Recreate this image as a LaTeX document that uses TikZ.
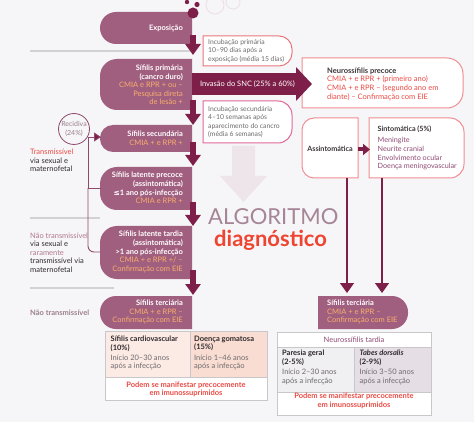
\documentclass[tikz,border=0pt]{standalone}
\usepackage{fontspec}
\setmainfont{Lato}
\newfontfamily\symf{DejaVu Sans}
\usetikzlibrary{arrows.meta}
\definecolor{bg}{HTML}{F6F5F7}
\definecolor{mauve}{HTML}{A15F80}
\definecolor{maroon}{HTML}{7D1F48}
\definecolor{conn}{HTML}{8E4A6D}
\definecolor{peach}{HTML}{F8AE6B}
\definecolor{redt}{HTML}{EA4A44}
\definecolor{diagred}{HTML}{EE4430}
\definecolor{pinkb}{HTML}{EE8E92}
\definecolor{redb}{HTML}{E8777C}
\definecolor{magb}{HTML}{E2689A}
\definecolor{greyt}{HTML}{6E6A6C}
\definecolor{darkt}{HTML}{3A3436}
\definecolor{violt}{HTML}{8F4A73}
\definecolor{mauvet}{HTML}{B0798F}
\definecolor{mauveg}{HTML}{9C7F8E}
\definecolor{lineg}{HTML}{D3D1D4}
\definecolor{fadearrow}{HTML}{EEE5EB}
\definecolor{faintc}{HTML}{EADFE5}
\definecolor{algc}{HTML}{A58596}
\definecolor{cellA}{HTML}{FCEAE5}
\definecolor{cellB}{HTML}{F9DDD3}
\definecolor{cellC}{HTML}{F0EFF2}
\definecolor{cellD}{HTML}{E6DEE5}
\definecolor{tblb}{HTML}{C9C7CA}
\definecolor{blackt}{HTML}{2E2A2C}
% box with left corners rounded: style, x1, y1, x2, y2, r
\newcommand{\myLbox}[6]{\path[#1] (#2,#3+#6) .. controls (#2,#3+0.45*#6) and (#2+0.45*#6,#3) .. (#2+#6,#3) -- (#4,#3) -- (#4,#5) -- (#2+#6,#5) .. controls (#2+0.45*#6,#5) and (#2,#5-0.45*#6) .. (#2,#5-#6) -- cycle;}
% box with right corners rounded
\newcommand{\myRbox}[6]{\path[#1] (#2,#3) -- (#4-#6,#3) .. controls (#4-0.45*#6,#3) and (#4,#3+0.45*#6) .. (#4,#3+#6) -- (#4,#5-#6) .. controls (#4,#5-0.45*#6) and (#4-0.45*#6,#5) .. (#4-#6,#5) -- (#2,#5) -- cycle;}
\begin{document}
\begin{tikzpicture}[x=1pt,y=-1pt,font=\fontsize{7.5}{8.6}\selectfont,
  rtxt/.style={inner sep=0pt,align=right,anchor=east,text=white},
  ltxt/.style={inner sep=0pt,align=left,anchor=west},
  ctxt/.style={inner sep=0pt,align=center},
  incub/.style={ltxt,text=greyt,font=\fontsize{6.8}{8.5}\selectfont},
  bigarr/.style={draw=maroon,line width=5.5pt,-{Triangle[width=15pt,length=11pt]}},
  vline/.style={draw=maroon,line width=1.3pt,-{Triangle[width=14pt,length=10pt]}},
  connl/.style={draw=conn,line width=0.9pt},
  sepl/.style={draw=lineg,line width=1.2pt},
  tbl/.style={draw=tblb,line width=0.8pt}]
\useasboundingbox (0,0) rectangle (474,422);
\fill[bg] (0,0) rectangle (474,422);

% faint background arrow
\fill[fadearrow] (232,146) -- (255,146) -- (255,176) -- (267,176) -- (243.5,202) -- (220,176) -- (232,176) -- cycle;

% decorative circles
\draw[faintc,line width=0.8pt] (215,5) circle[radius=9];
\draw[faintc,line width=0.8pt] (233,2) circle[radius=7];

% separator lines
\draw[sepl] (30,51) -- (190,51);
\draw[sepl] (30,218) -- (100,218);
\draw[sepl] (30,288) -- (114,288);

% left column boxes
\myLbox{fill=mauve}{100}{12}{192}{44}{16}
\myLbox{fill=mauve}{100}{59}{192}{110}{17}
\myLbox{fill=mauve}{100}{125}{192}{152}{13}
\myLbox{fill=mauve}{100}{167}{192}{210}{17}
\myLbox{fill=mauve}{100}{226}{192}{279}{17}
\myLbox{fill=mauve}{100}{296}{192}{329}{16}

\fill[maroon] (193,13) circle[radius=5.5];
\fill[maroon] (197,4.5) circle[radius=2.6];
\fill[maroon] (187,2) circle[radius=2.2];

\node[rtxt] (expo) at (183,28) {\textbf{Exposição}};
\node[rtxt] (prim) at (183,85) {\textbf{Sífilis primária}\\\textbf{(cancro duro)}\\\textcolor{peach}{CMIA e RPR + ou –}\\\textcolor{peach}{Pesquisa direta}\\\textcolor{peach}{de lesão +}};
\node[rtxt] (sec) at (183,138.5) {\textbf{Sífilis secundária}\\\textcolor{peach}{CMIA + e RPR +}};
\node[rtxt] (lpre) at (183,188) {\textbf{Sífilis latente precoce}\\\textbf{(assintomática)}\\\textbf{{\symf ≤}1 ano pós-infecção}\\\textcolor{peach}{CMIA e RPR +}};
\node[rtxt] (ltar) at (183,252) {\textbf{Sífilis latente tardia}\\\textbf{(assintomática)}\\\textbf{>1 ano pós-infecção}\\\textcolor{peach}{CMIA + e RPR +/ –}\\\textcolor{peach}{Confirmação com EIE}};
\node[rtxt] (terl) at (183,312) {\textbf{Sífilis terciária}\\\textcolor{peach}{CMIA + e RPR –}\\\textcolor{peach}{Confirmação com EIE}};

% incubation boxes
\myRbox{draw=redb,fill=white,line width=1pt}{203}{36}{292}{66}{13}
\node[incub] (incp) at (208,50.7) {Incubação primária\\10–90 dias após a\\exposição (média 15 dias)};
\myRbox{draw=magb,fill=white,line width=1pt}{203}{101}{292}{143}{14}
\node[incub] (incs) at (208,121.8) {Incubação secundária\\4–10 semanas após\\aparecimento do cancro\\(média 6 semanas)};

% neurosyphilis early
\myRbox{draw=pinkb,fill=white,line width=1pt}{302}{58}{463}{108}{16}
\node[ltxt] (neuro) at (327,84) {\textbf{\textcolor{darkt}{Neurossífilis precoce}}\\\textcolor{redt}{CMIA + e RPR + (primeiro ano)}\\\textcolor{redt}{CMIA + e RPR – (segundo ano em}\\\textcolor{redt}{diante) – Confirmação com EIE}};

% SNC arrow
\coordinate (snc1) at (192,84);
\coordinate (snc2) at (312,84);
\draw[maroon,line width=22pt,-{Triangle[width=33pt,length=16pt]}] (snc1) -- (snc2);
\node[ctxt,text=white] (snct) at (247.5,84) {Invasão do SNC (25\% a 60\%)};

% assint / sint
\myLbox{draw=pinkb,fill=white,line width=1pt}{302}{118}{358}{178}{12}
\node[ctxt,text=darkt,font=\fontsize{7.2}{8.6}\selectfont] (asin) at (330,149) {\textbf{Assintomática}};
\myRbox{draw=pinkb,fill=white,line width=1pt}{369}{118}{464}{178}{14}
\node[ltxt,font=\fontsize{7.2}{8.6}\selectfont] (sint) at (377.5,148) {\textbf{\textcolor{darkt}{Sintomática (5\%)}}\\[2.5pt]\textcolor{violt}{Meningite}\\\textcolor{violt}{Neurite cranial}\\\textcolor{violt}{Envolvimento ocular}\\\textcolor{violt}{Doença meningovascular}};
\coordinate (asinR) at (358,149.5);
\coordinate (sintL) at (370,149.5);
\draw[maroon,line width=4pt,-{Triangle[width=11pt,length=7pt]}] (asinR) -- (sintL);

% right tertiary
\myRbox{fill=mauve}{318}{296}{408}{329}{16}
\node[ltxt,text=white] (terr) at (327,312) {\textbf{Sífilis terciária}\\\textcolor{peach}{CMIA + e RPR –}\\\textcolor{peach}{Confirmação com EIE}};
\coordinate (asinB) at (347,178);
\coordinate (asinT) at (347,293);
\coordinate (sintB) at (382,178);
\coordinate (sintT) at (382,293);
\draw[vline] (asinB) -- (asinT);
\draw[vline] (sintB) -- (sintT);

% main down arrows
\coordinate (a1) at (193,35);  \coordinate (b1) at (193,55);
\coordinate (a2) at (193,100); \coordinate (b2) at (193,125);
\coordinate (a3) at (193,142); \coordinate (b3) at (193,166);
\coordinate (a4) at (193,202); \coordinate (b4) at (193,226);
\coordinate (a5) at (193,270); \coordinate (b5) at (193,295);
\draw[bigarr] (a1) -- (b1);
\draw[bigarr] (a2) -- (b2);
\draw[bigarr] (a3) -- (b3);
\draw[bigarr] (a4) -- (b4);
\draw[bigarr] (a5) -- (b5);

% recidiva
\node[circle,draw=conn,line width=0.8pt,minimum size=31,inner sep=0pt] (rec) at (74,129) {};
\node[ctxt,text=mauveg,font=\fontsize{7}{8.4}\selectfont] (rect) at (74,128.8) {Recidiva\\(24\%)};
\coordinate (j) at (88,137);
\coordinate (secW) at (101,137);
\coordinate (bj) at (88,188);
\coordinate (lpreW) at (100.5,188);
\coordinate (tj) at (88,252);
\coordinate (ltarW) at (100.5,252);
\draw[connl] (j) -- (bj) -- (lpreW);
\draw[connl,rounded corners=6pt] (bj) -- (tj) -- (ltarW);
\draw[connl,-{Triangle[width=9pt,length=7pt,fill=maroon]}] (j) -- (secW);

% left labels
\node[ltxt,text=blackt] (tr1) at (30,160.4) {\textcolor{redt}{Transmissível}\\via sexual e\\maternofetal};
\node[ltxt,text=blackt] (ntr1) at (30,252.5) {\textcolor{mauvet}{Não transmissível}\\via sexual e\\\textcolor{mauvet}{raramente}\\transmissível via\\maternofetal};
\node[ltxt,text=mauveg] (ntr2) at (30,313) {\textbf{Não transmissível}};

% title
\node[anchor=base west,inner sep=0pt,text=algc,font=\fontsize{22}{24}\selectfont] (alg) at (208,225) {ALGORITMO};
\node[anchor=base west,inner sep=0pt,text=diagred,font=\bfseries\fontsize{22}{24}\selectfont] (diag) at (214,247) {diagnóstico};

% left table
\fill[cellA] (105,331) rectangle (190,377);
\fill[cellB] (190,331) rectangle (267,377);
\fill[white] (105,377) rectangle (267,400);
\draw[tbl] (105,331) rectangle (267,400);
\draw[tbl] (105,377) -- (267,377);
\draw[tbl] (190,331) -- (190,377);
\node[ltxt,text=blackt] (cardio) at (110.5,353) {\textbf{Sífilis cardiovascular}\\\textbf{(10\%)}\\[1.5pt]\textcolor{greyt}{Início 20–30 anos}\\\textcolor{greyt}{após a infecção}};
\node[ltxt,text=blackt] (goma) at (194,353) {\textbf{Doença gomatosa}\\\textbf{(15\%)}\\[1.5pt]\textcolor{greyt}{Início 1–46 anos}\\\textcolor{greyt}{após a infecção}};
\node[ctxt,text=redt] (podl) at (186,389.5) {\textbf{Podem se manifestar precocemente}\\\textbf{em imunossuprimidos}};

% right table
\fill[white] (277,332) rectangle (431,347);
\fill[cellC] (277,347) rectangle (354,392);
\fill[cellD] (354,347) rectangle (431,392);
\fill[white] (277,392) rectangle (431,415);
\draw[tbl] (277,332) rectangle (431,415);
\draw[tbl] (277,347) -- (431,347);
\draw[tbl] (277,392) -- (431,392);
\draw[tbl] (354,347) -- (354,392);
\node[ctxt,text=violt] (nst) at (354,339.5) {Neurossífilis tardia};
\node[ltxt,text=blackt] (pares) at (282,367.4) {\textbf{Paresia geral}\\\textbf{(2-5\%)}\\[1.5pt]\textcolor{greyt}{Início 2–30 anos}\\\textcolor{greyt}{após a infecção}};
\node[ltxt,text=blackt] (tabes) at (359.5,367.4) {\textbf{\textit{Tabes dorsalis}}\\\textbf{(2-9\%)}\\[1.5pt]\textcolor{greyt}{Início 3–50 anos}\\\textcolor{greyt}{após a infecção}};
\node[ctxt,text=redt] (podr) at (354,400.8) {\textbf{Podem se manifestar precocemente}\\\textbf{em imunossuprimidos}};
\end{tikzpicture}
\end{document}
